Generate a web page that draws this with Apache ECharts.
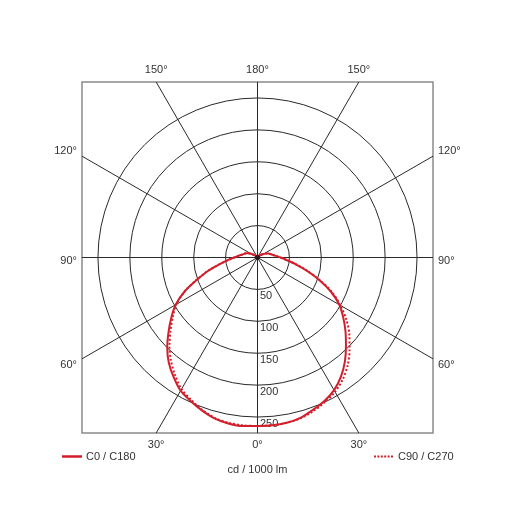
<!DOCTYPE html>
<html>
<head>
<meta charset="utf-8">
<script src="https://cdn.jsdelivr.net/npm/echarts@6/dist/echarts.min.js"></script>
<style>
html,body{margin:0;padding:0;background:#fff;}
#chart{width:515px;height:515px;}
</style>
</head>
<body>
<div id="chart"></div>
<script>
// Gamma angles (degrees from nadir)
const gammaDeg = [0,5,10,15,20,25,30,35,40,45,50,55,60,65,70,75,80,85,90,95,100,105,110,115,120,125,130,135,140,145,150,155,160,165,170,175,180];
// C0 (right half, solid)
const c0Values   = [264,264,263,260,254,248,240,228,213,196,180,164,148,127,103,80,61,46,36,29,24,21,18,15,11,8,6,4,3,2,2,1,1,1,1,1,1];
// C180 (left half, solid)
const c180Values = [264,265,264,261,255,248,241,229,216,200,182,165,148,126,100,80,60,47,37,30,25,22,19,16,12,8,6,4,3,2,2,1,1,1,1,1,1];
// C90 (right half, dotted)
const c90Values  = [264,264,263,261,256,250,243,233,220,204,188,170,150,129,104,81,61,46,36,29,24,21,18,15,11,8,6,4,3,2,2,1,1,1,1,1,1];
// C270 (left half, dotted)
const c270Values = [264,264,263,260,254,246,238,225,211,195,178,162,147,126,101,80,60,46,36,30,25,22,19,16,12,8,6,4,3,2,2,1,1,1,1,1,1];

const ringValues = [50,100,150,200,250];
const ringLabels = ['50','100','150','200','250'];
const spokeAngles = [0,30,60,90,120,150,180,210,240,270,300,330];
const spokeLabels = ['0°','30°','60°','90°','120°','150°','180°','150°','120°','90°','60°','30°'];
const seriesNames = ['C0 / C180','C90 / C270'];
const unitLabel = 'cd / 1000 lm';

const RMAX = 275;
const RED = '#d21f2b';
const GRIDC = '#2a2a2a';
const FAMILY = '"Liberation Sans", Arial, sans-serif';
const FONT = '11px ' + FAMILY;
const rad = Math.PI/180;

function halfCurve(vals, side){
  return gammaDeg.map((g,i)=>[side*vals[i]*Math.sin(g*rad), -vals[i]*Math.cos(g*rad)]);
}
function plane(leftVals, rightVals){
  const left = halfCurve(leftVals,-1).reverse();
  const right = halfCurve(rightVals,1).slice(1);
  return left.concat(right);
}
function spokeEnd(a){
  const s=Math.sin(a*rad), c=Math.cos(a*rad);
  const t=RMAX/Math.max(Math.abs(s),Math.abs(c));
  return [s*t, -c*t];
}

const dottedIcon = 'path://M0,0h2v2h-2zM3.4,0h2v2h-2zM6.8,0h2v2h-2zM10.2,0h2v2h-2zM13.6,0h2v2h-2zM17,0h2v2h-2z';

const chart = echarts.init(document.getElementById('chart'));
chart.setOption({
  animation:false,
  backgroundColor:'#fff',
  grid:{left:82,top:82,width:351,height:351,show:true,borderColor:'#8a8a8a',borderWidth:1.5,backgroundColor:'transparent'},
  xAxis:{type:'value',min:-RMAX,max:RMAX,show:false},
  yAxis:{type:'value',min:-RMAX,max:RMAX,show:false},
  title:{text:unitLabel,left:'center',top:464,padding:0,textStyle:{fontSize:11,fontWeight:'normal',color:'#333',fontFamily:FAMILY}},
  legend:[
    {data:[{name:seriesNames[0],icon:'rect'}],left:62,top:451,padding:0,itemWidth:20,itemHeight:2.5,itemGap:0,
     textStyle:{fontSize:11,color:'#333',fontFamily:FAMILY,padding:[0,0,0,-1]}},
    {data:[{name:seriesNames[1],icon:dottedIcon}],left:374,top:451,padding:0,itemWidth:19,itemHeight:2,itemGap:0,
     textStyle:{fontSize:11,color:'#333',fontFamily:FAMILY}}
  ],
  series:[
    {
      type:'custom', coordinateSystem:'cartesian2d', silent:true, z:1,
      data: ringValues.map((v,i)=>[v,0,i]),
      renderItem:function(params, api){
        const v = api.value(0);
        const i = api.value(2);
        const c = api.coord([0,0]);
        const r = api.size([v,0])[0];
        const p = api.coord([0,-v]);
        return {type:'group',children:[
          {type:'circle',shape:{cx:c[0],cy:c[1],r:r},style:{fill:'none',stroke:GRIDC,lineWidth:1}},
          {type:'text',x:p[0]+2.5,y:p[1]+1.5,style:{text:ringLabels[i],fill:'#333',font:FONT,align:'left',verticalAlign:'top'}}
        ]};
      }
    },
    {
      type:'custom', coordinateSystem:'cartesian2d', silent:true, z:1,
      data: spokeAngles.map((a,i)=>[a,0,i]),
      renderItem:function(params, api){
        const a = api.value(0);
        const i = api.value(2);
        const c = api.coord([0,0]);
        const e = spokeEnd(a);
        const p = api.coord(e);
        const s=Math.sin(a*rad), co=Math.cos(a*rad);
        let tx, ty, align, va='middle';
        if (Math.abs(co) >= Math.abs(s)-1e-9){
          tx = p[0]; align='center';
          ty = co>0 ? p[1]+12 : p[1]-12;
        } else {
          if (s>0){ tx=p[0]+5; align='left'; } else { tx=p[0]-5; align='right'; }
          if (Math.abs(co)<1e-6) ty=p[1]+3; else if (co>0) ty=p[1]+6.5; else ty=p[1]-5;
        }
        return {type:'group',children:[
          {type:'line',shape:{x1:c[0],y1:c[1],x2:p[0],y2:p[1]},style:{stroke:GRIDC,lineWidth:1}},
          {type:'text',x:tx,y:ty,style:{text:spokeLabels[i],fill:'#333',font:FONT,align:align,verticalAlign:va}}
        ]};
      }
    },
    {
      name:seriesNames[1], type:'line', z:3, symbol:'none', smooth:0.3,
      data: plane(c270Values, c90Values),
      itemStyle:{color:RED},
      lineStyle:{color:RED,width:2,type:'dotted'}
    },
    {
      name:seriesNames[0], type:'line', z:4, symbol:'none', smooth:0.3,
      data: plane(c180Values, c0Values),
      itemStyle:{color:RED},
      lineStyle:{color:RED,width:2,type:'solid'}
    },
    {
      type:'scatter', z:5, silent:true, symbolSize:5,
      data:[[0,0]], itemStyle:{color:'#111'}
    }
  ]
});
</script>
</body>
</html>
